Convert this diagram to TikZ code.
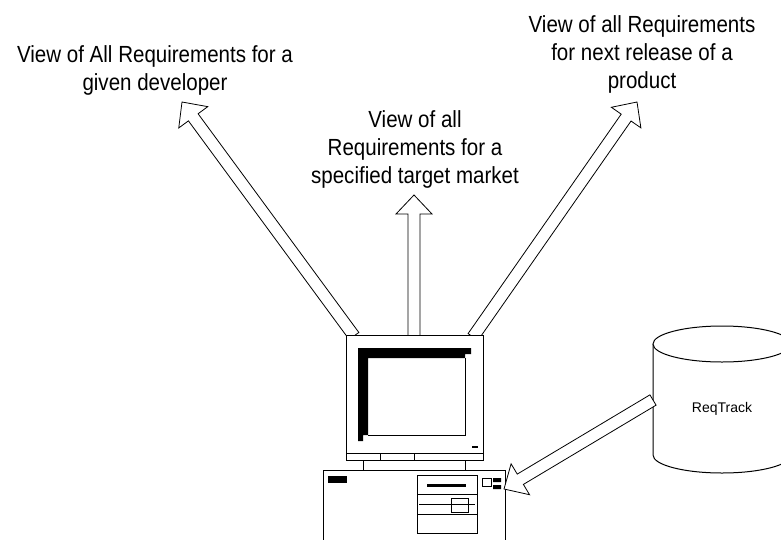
\documentclass[tikz,border=0pt]{standalone}
\usepackage{fontspec}
\setmainfont{Liberation Sans}
\newfontfamily\viewfont[FakeStretch=0.88]{Liberation Sans}
\usetikzlibrary{calc}
\tikzset{
  view/.style={align=center, inner sep=0pt, anchor=north,
    font=\viewfont\fontsize{17.5}{21}\selectfont},
  hollow/.style={draw, line width=0.6pt, fill=white, line join=miter},
  unit/.style={draw, line width=0.75pt, fill=white},
  ink/.style={fill=black},
}
% hollow block arrow from #1 to #2
\newcommand\blockarrow[2]{%
  \coordinate (ba-b) at ($(#2)!14.25pt!(#1)$);
  \draw[hollow] ($(#1)!4.5pt!90:(#2)$) -- ($(ba-b)!4.5pt!90:(#2)$)
    -- ($(ba-b)!13.5pt!90:(#2)$) -- (#2) -- ($(ba-b)!13.5pt!-90:(#2)$)
    -- ($(ba-b)!4.5pt!-90:(#2)$) -- ($(#1)!4.5pt!-90:(#2)$) -- cycle;}

\begin{document}
\begin{tikzpicture}[x=0.75pt, y=-0.75pt]
  \clip (0,0) rectangle (781,539);

  \node[view] (dev) at (155,45) {View of All Requirements for a\\given developer};
  \node[view] (market) at (415,110) {View of all\\Requirements for a\\specified target market};
  \node[view] (release) at (642,15) {View of all Requirements\\for next release of a\\product};

  \coordinate (tip-dev) at (182,102);
  \coordinate (tip-market) at (414,195);
  \coordinate (tip-release) at (637,102);
  \coordinate (out-dev) at (354,336);
  \coordinate (out-market) at (414,337);
  \coordinate (out-release) at (473,337);
  \blockarrow{out-dev}{tip-dev}
  \blockarrow{out-market}{tip-market}
  \blockarrow{out-release}{tip-release}

  % monitor
  \draw[unit] (346,335) rectangle (483,460);
  \draw[line width=0.75pt] (346,453) -- (483,453) (380,453) -- (380,460)
    (414,453) -- (414,460) (363,460) -- (363,470) (465,460) -- (465,470);
  \fill[ink] (358,348) -- (471,348) -- (471,354) -- (465,354) -- (465,358)
    -- (368,358) -- (368,435) -- (363,435) -- (363,441) -- (358,441) -- cycle;
  \draw[line width=0.75pt] (465,358) -- (465,435) -- (368,435);
  \fill[ink] (472,446) rectangle (478,448);

  % system unit
  \draw[unit] (323,470) rectangle (505,560);
  \fill[ink] (328,476) rectangle (347,483);
  \draw[line width=0.75pt] (417,475) rectangle (477,533)
    (417,494) -- (477,494) (417,514) -- (477,514) (419,504) -- (475,504)
    (451,498) rectangle (468,512) (482,478) rectangle (491,486);
  \fill[ink] (427,484) rectangle (466,487);
  \fill[ink] (493,478) rectangle (501,482) (493,485) rectangle (501,489);

  % database
  \draw[unit] (653,344) -- (653,455)
    arc[start angle=180, end angle=0, x radius=69, y radius=18] -- (791,344);
  \draw[unit] (722,344) ellipse [x radius=69, y radius=18];
  \node[font=\fontsize{10.5}{12}\selectfont] (reqtrack) at (722,409) {ReqTrack};

  \coordinate (db-out) at (653,400);
  \coordinate (pc-in) at (504,489);
  \blockarrow{db-out}{pc-in}
\end{tikzpicture}
\end{document}
